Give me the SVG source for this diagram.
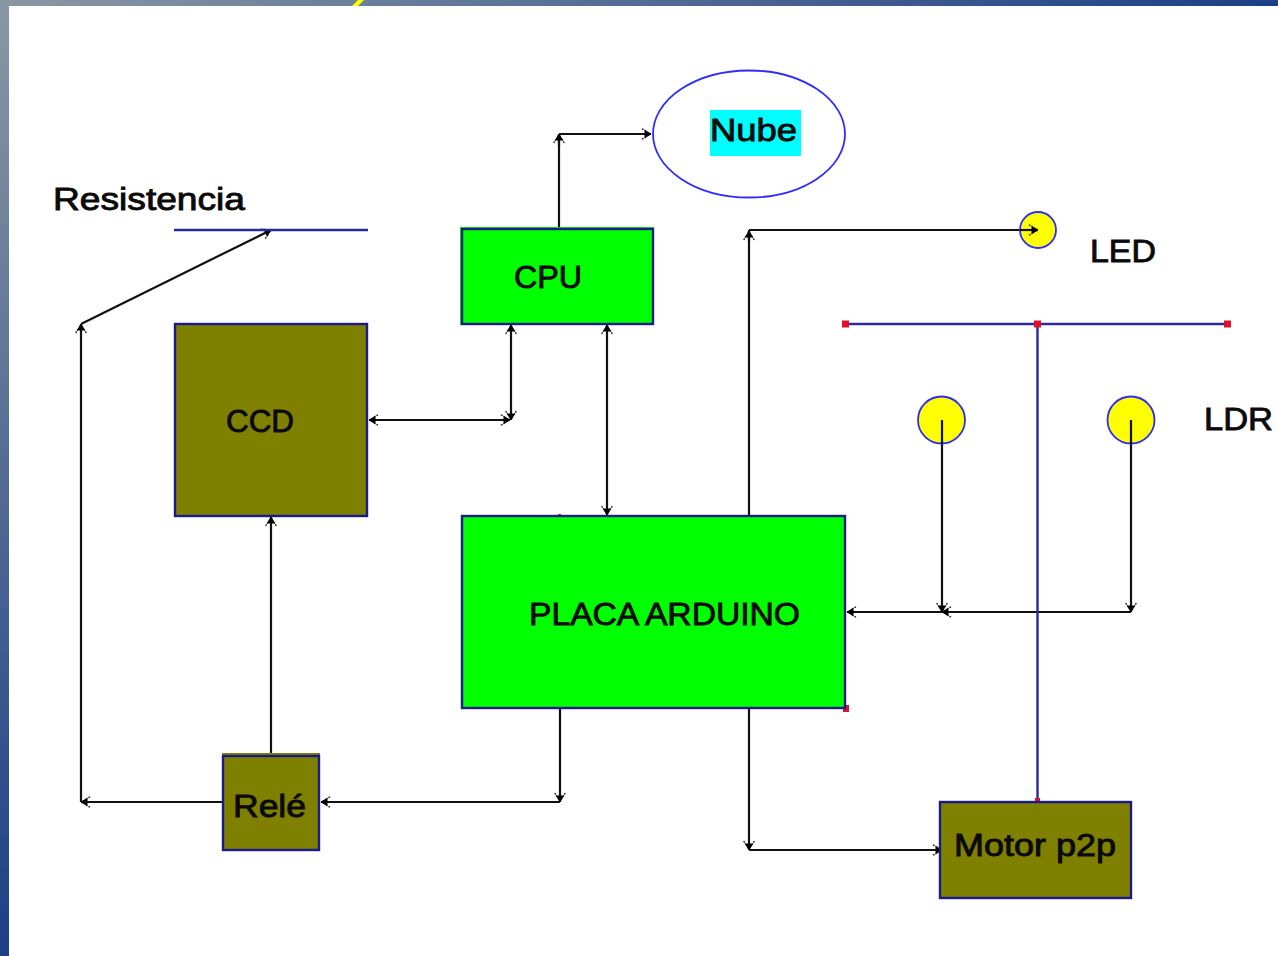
<svg xmlns="http://www.w3.org/2000/svg" width="1278" height="956" viewBox="0 0 1278 956">
<style>
.box{stroke:#1a1a8c;stroke-width:2.4}
.olive{fill:#808000}
.green{fill:#00ff00}
.wire{fill:none;stroke:#111;stroke-width:2.2}
.blue{fill:none;stroke:#2a2a9c;stroke-width:2.4}
.lamp{fill:#ffff00;stroke:#2c2cff;stroke-width:1.8}
.t{font-family:"Liberation Sans",Arial,sans-serif;font-size:32px;fill:#0a0a0a;stroke:#0a0a0a;stroke-width:.9}
.h{fill:#e0102a}
</style>
<defs>
<linearGradient id="bg" gradientUnits="userSpaceOnUse" x1="0" y1="0" x2="459" y2="613">
<stop offset="0" stop-color="#8a98a4"/><stop offset="1" stop-color="#1c3f86"/>
</linearGradient>
<marker id="a" viewBox="0 0 14 14" refX="13" refY="7" markerWidth="14" markerHeight="14" markerUnits="userSpaceOnUse" orient="auto-start-reverse">
<path d="M13 7L7 3.500V10.500Z" fill="#000" stroke="#000"/>
<path d="M8 4L3.500 1.500M8 10L3.500 12.500" fill="none" stroke="#222" stroke-width="1.400" stroke-dasharray="1.800 1"/>
</marker>
</defs>
<rect width="1278" height="956" fill="#fff"/>
<path d="M0 0H1278V6H9V956H0Z" fill="url(#bg)"/>
<path d="M352 6L358 0H364L358 6Z" fill="#ffff00"/>

<g id="connectors">
<path class="wire" d="M559 228V134"/>
<path class="wire" d="M559 134H651" marker-end="url(#a)"/>
<path class="wire" d="M559 146V134" marker-end="url(#a)"/>
<path class="wire" d="M749 516V230"/>
<path class="wire" d="M749 230H1038" marker-end="url(#a)"/>
<path class="wire" d="M749 242V231" marker-end="url(#a)"/>
<path class="wire" d="M369 420H510" marker-start="url(#a)" marker-end="url(#a)"/>
<path class="wire" d="M511 325V420" marker-start="url(#a)" marker-end="url(#a)"/>
<path class="wire" d="M607 325V515" marker-start="url(#a)" marker-end="url(#a)"/>
<path class="wire" d="M942 420V612" marker-end="url(#a)"/>
<path class="wire" d="M1131 420V612" marker-end="url(#a)"/>
<path class="wire" d="M1131 612H942" marker-end="url(#a)"/>
<path class="wire" d="M942 612H847" marker-end="url(#a)"/>
<path class="wire" d="M271 755V517" marker-end="url(#a)"/>
<path class="wire" d="M560 709V802" marker-end="url(#a)"/>
<path class="wire" d="M560 802H321" marker-end="url(#a)"/>
<path class="wire" d="M222 802H81" marker-end="url(#a)"/>
<path class="wire" d="M81 802V324" marker-end="url(#a)"/>
<path class="wire" d="M81 324L271 230" marker-end="url(#a)"/>
<path class="wire" d="M749 709V850" marker-end="url(#a)"/>
<path class="wire" d="M749 850H942" marker-end="url(#a)"/>
<path class="blue" d="M174 230H368"/>
<path class="blue" d="M846 324H1227"/>
<path class="blue" d="M1037.500 324V802"/>
</g>

<g id="handles">
<rect class="h" x="842" y="320.500" width="7" height="7"/>
<rect class="h" x="1034" y="320.500" width="7" height="7"/>
<rect class="h" x="1224" y="320.500" width="7" height="7"/>
<rect class="h" x="843" y="705" width="6" height="7"/>
<rect class="h" x="1035" y="798" width="5" height="3"/>
<rect class="h" x="558" y="514" width="3" height="2"/>
</g>

<g id="nube">
<ellipse cx="749" cy="134" rx="96" ry="63.500" fill="#fff" stroke="#2c2cff" stroke-width="1.800"/>
<rect x="710" y="110" width="91" height="46" fill="#00ffff"/>
<text class="t" x="710" y="141" textLength="87" lengthAdjust="spacingAndGlyphs">Nube</text>
</g>
<g id="cpu">
<rect x="460" y="227" width="194" height="98" class="green"/>
<rect class="box green" x="462" y="229" width="191" height="95"/>
<text class="t" x="514" y="288" textLength="68" lengthAdjust="spacingAndGlyphs">CPU</text>
</g>
<g id="ccd">
<rect class="box olive" x="175" y="324" width="192" height="192"/>
<text class="t" x="226" y="432" textLength="68" lengthAdjust="spacingAndGlyphs">CCD</text>
</g>
<g id="placa">
<rect class="box green" x="462" y="516" width="383" height="192"/>
<text class="t" x="529" y="625" textLength="271" lengthAdjust="spacingAndGlyphs">PLACA ARDUINO</text>
</g>
<g id="rele">
<rect x="222" y="753" width="98" height="4" class="olive"/>
<rect class="box olive" x="223" y="756" width="96" height="94"/>
<text class="t" x="233" y="817" textLength="73" lengthAdjust="spacingAndGlyphs">Relé</text>
</g>
<g id="motor">
<rect class="box olive" x="940" y="802" width="191" height="96"/>
<text class="t" x="954" y="856" textLength="162" lengthAdjust="spacingAndGlyphs">Motor p2p</text>
</g>
<g id="led">
<circle class="lamp" cx="1038" cy="230" r="18"/>
<path class="wire" d="M1020 230H1038" marker-end="url(#a)"/>
<text class="t" x="1090" y="262" textLength="66" lengthAdjust="spacingAndGlyphs">LED</text>
</g>
<g id="ldr1">
<circle class="lamp" cx="941.500" cy="420" r="23.500"/>
<path class="wire" d="M942 420V444"/>
</g>
<g id="ldr2">
<circle class="lamp" cx="1131" cy="420" r="23.500"/>
<path class="wire" d="M1131 420V444"/>
<text class="t" x="1204" y="430" textLength="69" lengthAdjust="spacingAndGlyphs">LDR</text>
</g>
<g id="resistencia">
<text class="t" x="53" y="210" textLength="192" lengthAdjust="spacingAndGlyphs">Resistencia</text>
</g>
</svg>
